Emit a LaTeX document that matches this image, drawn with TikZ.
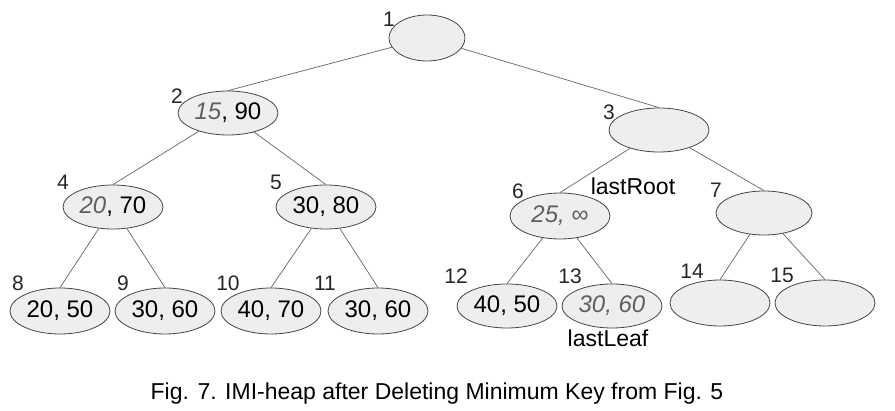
\documentclass[tikz,border=0pt]{standalone}
\usepackage{fontspec}
\setmainfont{Liberation Sans}
\usepackage{tikz}
\usetikzlibrary{shapes.geometric}
\definecolor{heapfill}{RGB}{238,238,238}
\definecolor{heapline}{RGB}{70,70,70}
\definecolor{edgegray}{RGB}{100,100,100}
\definecolor{keygray}{RGB}{95,95,95}
\newcommand{\oldkey}[1]{{\itshape\color{keygray}#1}}

\begin{document}
\begin{tikzpicture}[x=1pt,y=-1pt,
    heapnode/.style={ellipse,draw=heapline,fill=heapfill,line width=0.8pt,
        minimum width=100pt,minimum height=44pt,inner sep=0pt,
        font=\fontsize{24}{28}\selectfont},
    idx/.style={inner sep=0pt,font=\fontsize{21}{25}\selectfont,text=black!85},
    note/.style={inner sep=0pt,anchor=base,font=\fontsize{23}{28}\selectfont}]
    \useasboundingbox (0,0) rectangle (895,411);
    % level 0 and 1
    \node[heapnode,minimum width=76pt,minimum height=46pt] (n1) at (427,38) {};
    \node[heapnode] (n2) at (228,113) {\oldkey{15}, 90};
    \node[heapnode] (n3) at (659,130) {};
    % level 2
    \node[heapnode] (n4) at (113,207) {\oldkey{20}, 70};
    \node[heapnode] (n5) at (326,207) {30, 80};
    \node[heapnode,minimum height=46pt] (n6) at (560,216) {\oldkey{25, ∞}};
    \node[heapnode,minimum width=96pt] (n7) at (764,213) {};
    % level 3
    \node[heapnode,minimum height=46pt] (n8) at (60,311) {20, 50};
    \node[heapnode,minimum height=46pt] (n9) at (165,311) {30, 60};
    \node[heapnode,minimum height=46pt] (n10) at (271,311) {40, 70};
    \node[heapnode,minimum height=46pt] (n11) at (378,311) {30, 60};
    \node[heapnode] (n12) at (507,306) {40, 50};
    \node[heapnode] (n13) at (612,306) {\oldkey{30, 60}};
    \node[heapnode,minimum height=46pt] (n14) at (720,303) {};
    \node[heapnode,minimum height=46pt] (n15) at (825,303) {};
    % tree edges
    \foreach \p/\c in {1/2,1/3,2/4,2/5,3/6,3/7,4/8,4/9,5/10,5/11,6/12,6/13,7/14,7/15}
        \draw[edgegray,line width=0.7pt] (n\p) -- (n\c.north);
    % array positions
    \foreach \pt/\lbl in {(389,19)/1,(177,96)/2,(609,112)/3,(63,182)/4,(276,182)/5,
        (518,191)/6,(716,190)/7,(18,283)/8,(123,283)/9,(228,283)/10,(325,283)/11,
        (456,276)/12,(570,276)/13,(692,271)/14,(782,275)/15}
        \node[idx] (i\lbl) at \pt {\lbl};
    \node[note] (lastroot) at (633,195) {lastRoot};
    \node[note] (lastleaf) at (608,347) {lastLeaf};
    \node[note] (caption) at (437,400)
        {Fig. 7. IMI-heap after Deleting Minimum Key from Fig. 5};
\end{tikzpicture}
\end{document}
